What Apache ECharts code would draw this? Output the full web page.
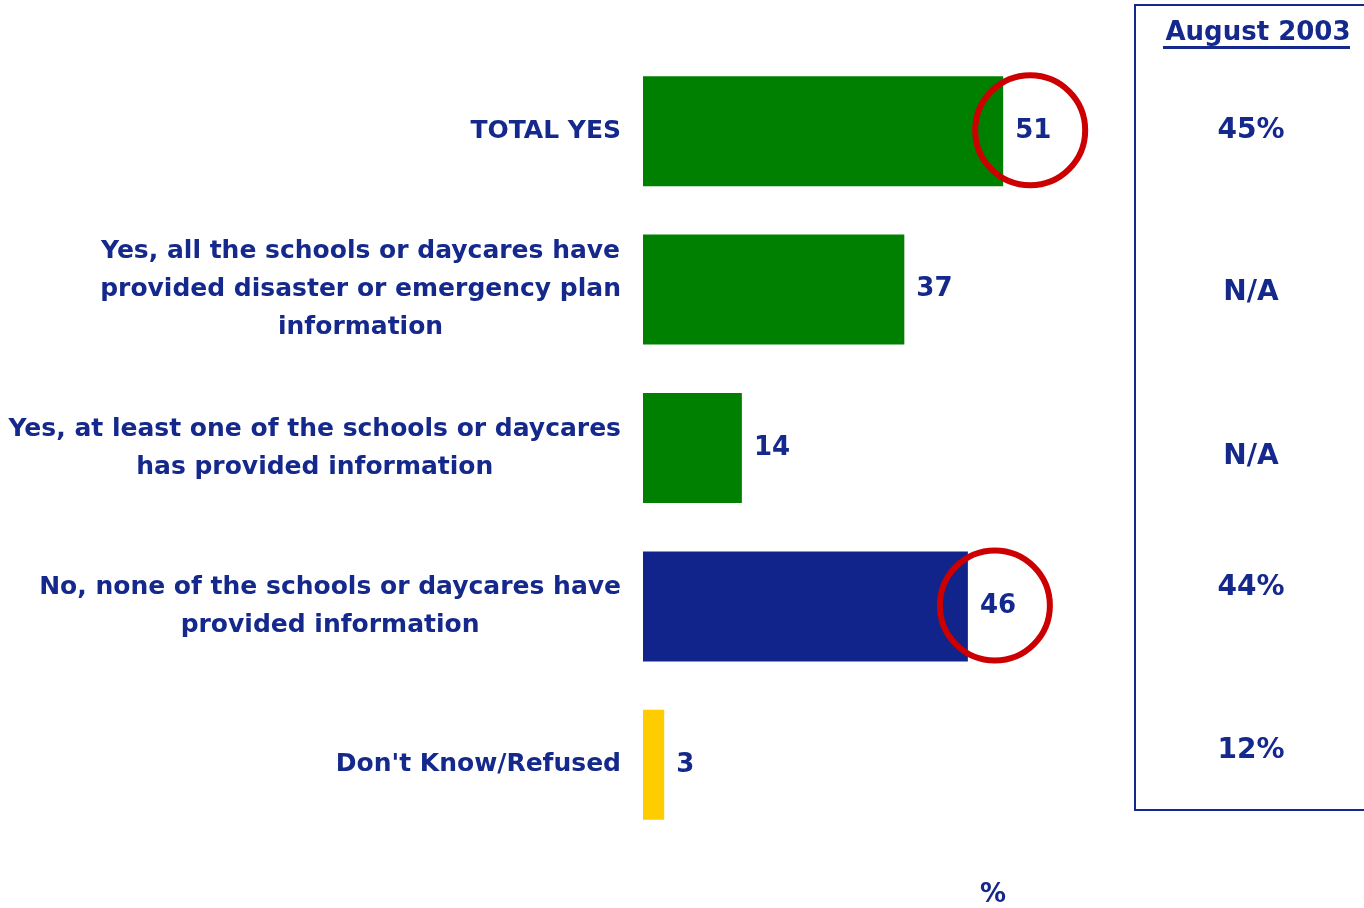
<!DOCTYPE html>
<html>
<head>
<meta charset="utf-8">
<script src="https://cdn.jsdelivr.net/npm/echarts@6/dist/echarts.min.js"></script>
<style>
  html, body { margin: 0; padding: 0; background: #fff; }
  #chart { width: 1364px; height: 908px; }
</style>
</head>
<body>
<div id="chart"></div>
<script>
const categories = [
  'TOTAL YES',
  'Yes, all the schools or daycares have\nprovided disaster or emergency plan\ninformation',
  'Yes, at least one of the schools or daycares\nhas provided information',
  'No, none of the schools or daycares have\nprovided information',
  "Don't Know/Refused"
]
const values = [51, 37, 14, 46, 3]
const barColors = ['#008000', '#008000', '#008000', '#10248c', '#ffcc00']
const aug2003 = ['45%', 'N/A', 'N/A', '44%', '12%']
const circled = [0, 3] // rows with a red ring round the value

const navy = '#15298c'
const labelFont = 'DejaVu Sans'
const numFont = 'DejaVu Sans'

// the August column in the source sits a little off the bar rows
const augShift = [0, 3, 9, -19, -14]
const augRich = {}
augShift.forEach((d, i) => {
  augRich['r' + i] = {
    color: navy,
    fontFamily: numFont,
    fontWeight: 'bold',
    fontSize: 28,
    padding: d >= 0 ? [2 * d, 0, 0, 0] : [0, 0, -2 * d, 0]
  }
})

const chart = echarts.init(document.getElementById('chart'))

const option = {
  animation: false,
  backgroundColor: '#fff',
  title: [
    {
      text: 'August 2003',
      left: 1253,
      top: 15,
      textAlign: 'center',
      textStyle: { color: navy, fontFamily: numFont, fontWeight: 'bold', fontSize: 26 }
    },
    {
      text: '%',
      left: 988,
      top: 877,
      textAlign: 'center',
      textStyle: { color: navy, fontFamily: numFont, fontWeight: 'bold', fontSize: 26 }
    }
  ],
  grid: { left: 643, top: 52, bottom: 64, width: 565 },
  xAxis: {
    type: 'value',
    min: 0,
    max: 80,
    show: false
  },
  yAxis: [
    {
      type: 'category',
      data: categories,
      inverse: true,
      axisLine: { show: false },
      axisTick: { show: false },
      axisLabel: {
        margin: 22,
        formatter: v => v.split('\n').map(s => '{c|' + s + '}').join('\n'),
        rich: {
          c: {
            align: 'center',
            color: navy,
            fontFamily: labelFont,
            fontWeight: 'bold',
            fontSize: 25,
            lineHeight: 38
          }
        }
      }
    },
    {
      type: 'category',
      data: categories,
      inverse: true,
      position: 'right',
      axisLine: { show: false },
      axisTick: { show: false },
      axisLabel: {
        margin: 43,
        align: 'center',
        formatter: (v, i) => '{r' + i + '|' + aug2003[i] + '}',
        rich: augRich
      }
    }
  ],
  series: [
    {
      type: 'bar',
      data: values.map((v, i) => ({ value: v, itemStyle: { color: barColors[i] } })),
      barWidth: 110,
      label: {
        show: true,
        position: 'right',
        distance: 12,
        color: navy,
        fontFamily: numFont,
        fontWeight: 'bold',
        fontSize: 26
      }
    },
    {
      type: 'scatter',
      z: 5,
      data: circled.map(i => [values[i], i]),
      symbol: 'circle',
      symbolSize: 110,
      symbolOffset: [27, -1],
      itemStyle: { color: 'rgba(0,0,0,0)', borderColor: '#cc0000', borderWidth: 6, opacity: 1 },
      silent: true
    }
  ],
  graphic: [
    {
      type: 'rect',
      shape: { x: 1135, y: 5, width: 260, height: 805 },
      style: { fill: 'none', stroke: navy, lineWidth: 2 }
    },
    {
      type: 'rect',
      shape: { x: 1163, y: 46, width: 187, height: 3 },
      style: { fill: navy }
    }
  ]
}

chart.setOption(option)
</script>
</body>
</html>
